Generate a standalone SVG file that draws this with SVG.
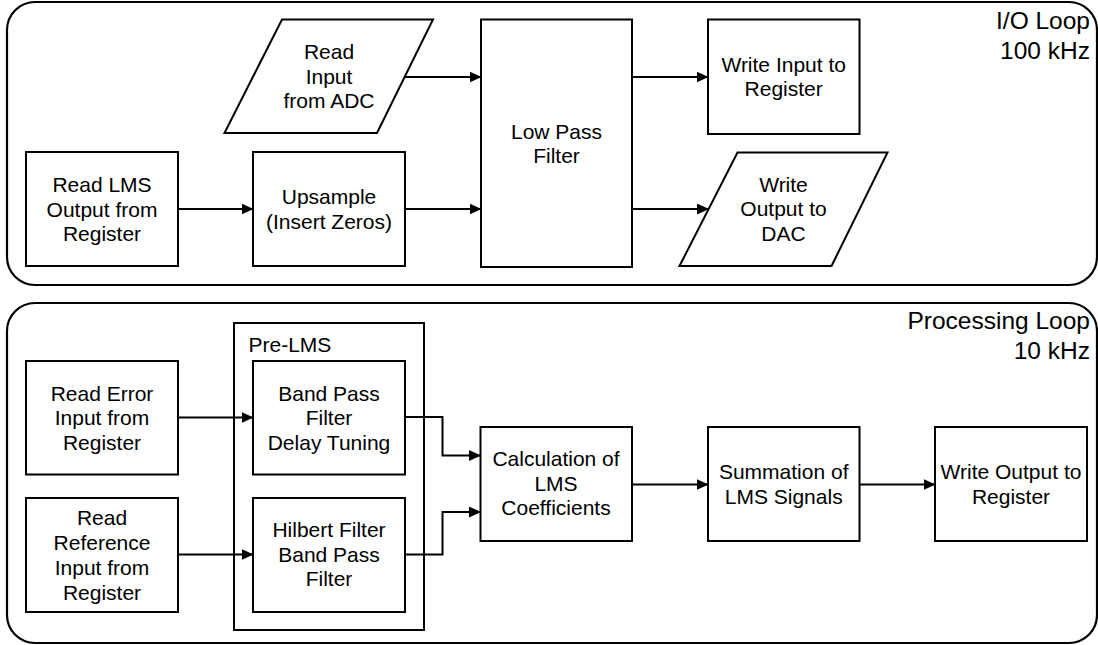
<svg xmlns="http://www.w3.org/2000/svg" width="1098" height="645" viewBox="0 0 1098 645">
<style>
.loop{fill:none;stroke:#000;stroke-width:2.2}
.box{fill:#fff;stroke:#000;stroke-width:2}
.t{font-family:"Liberation Sans",Arial,sans-serif;font-size:21px;fill:#000;text-anchor:middle}
.lt{font-family:"Liberation Sans",Arial,sans-serif;font-size:24.5px;fill:#000;text-anchor:end}
.pl{font-family:"Liberation Sans",Arial,sans-serif;font-size:21px;fill:#000}
.c{fill:none;stroke:#000;stroke-width:2}
</style>
<defs>
<marker id="ah" markerUnits="userSpaceOnUse" markerWidth="12" markerHeight="11" refX="11.5" refY="5.5" orient="auto">
<path d="M0,0 L12,5.5 L0,11 Z" fill="#000"/>
</marker>
</defs>
<g id="io-loop">
<rect class="loop" x="7" y="2" width="1090" height="283" rx="28"/>
<text class="lt" x="1090" y="29">I/O Loop</text>
<text class="lt" x="1090" y="59">100 kHz</text>
</g>
<g id="proc-loop">
<rect class="loop" x="7" y="303" width="1090" height="340" rx="28"/>
<text class="lt" x="1090" y="329">Processing Loop</text>
<text class="lt" x="1090" y="359">10 kHz</text>
</g>
<g id="read-adc">
<polygon class="box" points="282,19.5 433,19.5 377,133 224.5,133"/>
<text class="t" x="329" y="59">Read</text>
<text class="t" x="329" y="83.5">Input</text>
<text class="t" x="329" y="108">from ADC</text>
</g>
<g id="lpf">
<rect class="box" x="481" y="19.5" width="151" height="247.5"/>
<text class="t" x="556.5" y="138.5">Low Pass</text>
<text class="t" x="556.5" y="163">Filter</text>
</g>
<g id="write-input">
<rect class="box" x="708" y="19.5" width="151.5" height="114.5"/>
<text class="t" x="783.7" y="71.5">Write Input to</text>
<text class="t" x="783.7" y="96">Register</text>
</g>
<g id="write-dac">
<polygon class="box" points="737.5,152.5 887.5,152.5 831.5,266 679.5,266"/>
<text class="t" x="783.5" y="191.5">Write</text>
<text class="t" x="783.5" y="216">Output to</text>
<text class="t" x="783.5" y="240.5">DAC</text>
</g>
<g id="read-lms">
<rect class="box" x="26" y="152" width="152" height="114"/>
<text class="t" x="102" y="192">Read LMS</text>
<text class="t" x="102" y="216.5">Output from</text>
<text class="t" x="102" y="241">Register</text>
</g>
<g id="upsample">
<rect class="box" x="253" y="152" width="152" height="114"/>
<text class="t" x="329" y="204">Upsample</text>
<text class="t" x="329" y="228.5">(Insert Zeros)</text>
</g>
<g id="pre-lms">
<rect class="box" x="234" y="323" width="190" height="307"/>
<text class="pl" x="248.5" y="351.5">Pre-LMS</text>
</g>
<g id="read-error">
<rect class="box" x="26" y="361" width="152" height="113.5"/>
<text class="t" x="102" y="400.5">Read Error</text>
<text class="t" x="102" y="425">Input from</text>
<text class="t" x="102" y="449.5">Register</text>
</g>
<g id="read-ref">
<rect class="box" x="26" y="498" width="152" height="114"/>
<text class="t" x="102" y="524.5">Read</text>
<text class="t" x="102" y="549.5">Reference</text>
<text class="t" x="102" y="574.5">Input from</text>
<text class="t" x="102" y="599.5">Register</text>
</g>
<g id="bpf">
<rect class="box" x="253" y="361" width="152" height="113.5"/>
<text class="t" x="329" y="400.5">Band Pass</text>
<text class="t" x="329" y="425">Filter</text>
<text class="t" x="329" y="449.5">Delay Tuning</text>
</g>
<g id="hilbert">
<rect class="box" x="253" y="498" width="152" height="114"/>
<text class="t" x="329" y="537">Hilbert Filter</text>
<text class="t" x="329" y="561.5">Band Pass</text>
<text class="t" x="329" y="586">Filter</text>
</g>
<g id="calc">
<rect class="box" x="480.5" y="427" width="151.5" height="114"/>
<text class="t" x="556" y="466">Calculation of</text>
<text class="t" x="556" y="490.5">LMS</text>
<text class="t" x="556" y="515">Coefficients</text>
</g>
<g id="summation">
<rect class="box" x="708" y="427" width="151.5" height="114"/>
<text class="t" x="783.7" y="479">Summation of</text>
<text class="t" x="783.7" y="503.5">LMS Signals</text>
</g>
<g id="write-output">
<rect class="box" x="935" y="427" width="152" height="114"/>
<text class="t" x="1011" y="479">Write Output to</text>
<text class="t" x="1011" y="503.5">Register</text>
</g>
<g id="connectors">
<path class="c" d="M405,77 H481" marker-end="url(#ah)"/>
<path class="c" d="M178,209 H253" marker-end="url(#ah)"/>
<path class="c" d="M405,209 H481" marker-end="url(#ah)"/>
<path class="c" d="M632,77 H708" marker-end="url(#ah)"/>
<path class="c" d="M632,209 H708.5" marker-end="url(#ah)"/>
<path class="c" d="M178,417.5 H253" marker-end="url(#ah)"/>
<path class="c" d="M178,554.5 H253" marker-end="url(#ah)"/>
<path class="c" d="M405,417 H442.5 V455.5 H480.5" marker-end="url(#ah)"/>
<path class="c" d="M405,554.5 H442.5 V512 H480.5" marker-end="url(#ah)"/>
<path class="c" d="M632,484.5 H708" marker-end="url(#ah)"/>
<path class="c" d="M859.5,484.5 H935" marker-end="url(#ah)"/>
</g>
</svg>
